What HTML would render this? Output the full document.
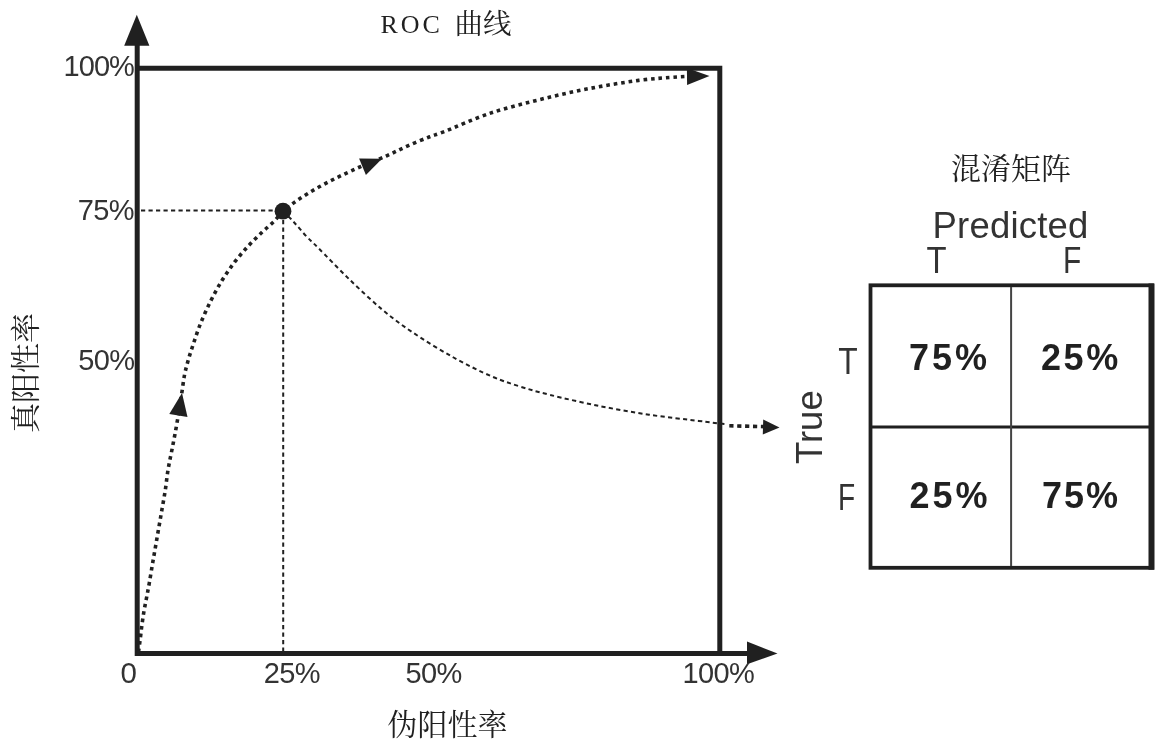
<!DOCTYPE html>
<html><head><meta charset="utf-8"><title>ROC</title>
<style>html,body{margin:0;padding:0;background:#fff;} svg{display:block;} svg{filter:grayscale(1)}</style>
</head><body>
<svg width="1168" height="744" viewBox="0 0 1168 744">
<rect width="1168" height="744" fill="#fff"/>
<path d="M137.2,40 V653.6 H752" fill="none" stroke="#231f20" stroke-width="5"/>
<path d="M135,68.2 H719.8 V653" fill="none" stroke="#231f20" stroke-width="5"/>
<polygon points="136.8,14.8 124.2,45.8 149.4,45.8" fill="#231f20"/>
<polygon points="777.5,653.6 747,641.6 747,664.2" fill="#231f20"/>
<path d="M141,210.4 H276" fill="none" stroke="#231f20" stroke-width="2" stroke-dasharray="4.2 3.3"/>
<path d="M283.2,220 V651" fill="none" stroke="#231f20" stroke-width="2" stroke-dasharray="4.2 3.3"/>
<path d="M283.0,211.0 C284.2,212.2 288.2,216.1 290.5,218.5 C292.8,220.9 294.2,222.5 297.0,225.6 C299.8,228.7 303.4,233.3 307.0,237.0 C310.6,240.7 311.3,241.0 318.3,248.0 C325.3,255.0 338.3,268.6 348.9,278.9 C359.5,289.1 371.5,300.6 382.1,309.5 C392.8,318.4 400.9,324.5 412.8,332.5 C424.7,340.5 440.4,350.2 453.6,357.5 C466.8,364.8 480.8,371.7 491.9,376.5 C503.0,381.3 510.4,383.4 520.0,386.5 C529.6,389.6 536.5,391.6 549.7,394.8 C562.9,398.1 582.8,402.7 599.3,406.0 C615.8,409.3 632.5,412.2 649.0,414.7 C665.5,417.2 686.9,419.4 698.6,420.9 C710.3,422.3 714.6,422.9 719.0,423.4 C723.4,423.9 724.0,423.9 725.0,424.0" fill="none" stroke="#231f20" stroke-width="2" stroke-dasharray="4.2 3.3"/>
<path d="M729.3,425.8 L764,426.6" fill="none" stroke="#231f20" stroke-width="3.6" stroke-dasharray="4.2 3.7"/>
<polygon points="779.5,427.4 762.8,434.5 763.2,419.5" fill="#231f20"/>
<path d="M138.5,652.0 C138.8,650.2 139.4,645.3 140.0,641.0 C140.6,636.7 141.1,631.0 141.8,626.0 C142.5,621.0 143.2,615.7 144.0,611.0 C144.8,606.3 145.6,602.7 146.5,598.0 C147.4,593.3 148.2,589.2 149.3,583.0 C150.4,576.8 151.7,568.5 153.0,561.0 C154.3,553.5 155.7,545.7 157.0,538.0 C158.3,530.3 159.7,522.7 161.0,515.0 C162.3,507.3 163.8,499.5 165.0,492.0 C166.2,484.5 166.9,476.7 168.0,470.0 C169.1,463.3 170.3,458.0 171.5,452.0 C172.7,446.0 173.8,440.3 175.0,434.0 C176.2,427.7 177.4,420.5 178.5,414.0 C179.6,407.5 180.5,401.5 181.5,395.0 C182.5,388.5 183.4,380.7 184.5,375.0 C185.6,369.3 186.7,365.8 188.0,361.0 C189.3,356.2 190.5,352.6 192.6,346.3 C194.7,340.0 197.5,331.0 200.6,323.4 C203.7,315.8 207.3,307.8 210.9,300.6 C214.5,293.4 218.3,286.5 222.3,280.0 C226.3,273.5 230.5,267.4 234.9,261.7 C239.3,256.0 244.0,250.6 248.6,245.7 C253.2,240.8 258.1,236.0 262.3,232.0 C266.5,228.0 270.2,225.1 273.7,221.7 C277.1,218.3 279.6,214.7 283.0,211.5 C286.4,208.3 290.4,205.3 294.4,202.4 C298.4,199.5 302.7,196.7 307.1,194.0 C311.5,191.3 316.2,188.5 320.8,186.0 C325.4,183.5 329.8,181.2 334.4,178.9 C338.9,176.6 343.5,174.5 348.1,172.3 C352.7,170.2 355.6,168.8 362.0,166.0 C368.4,163.2 379.1,159.2 386.7,155.8 C394.3,152.4 400.6,149.0 407.8,145.8 C415.0,142.6 423.5,139.2 429.7,136.8 C435.9,134.4 434.8,135.3 444.8,131.4 C454.8,127.5 473.9,118.7 489.7,113.4 C505.4,108.1 522.8,103.8 539.3,99.7 C555.8,95.6 572.5,91.8 589.0,88.6 C605.5,85.4 623.7,82.4 638.6,80.4 C653.5,78.5 668.1,77.6 678.3,76.9 C688.5,76.2 696.4,76.4 700.0,76.3" fill="none" stroke="#231f20" stroke-width="3.6" stroke-dasharray="3.6 3.9"/>
<polygon points="182.0,393.0 187.5,417.0 169.3,414.0" fill="#231f20"/>
<polygon points="382.0,158.7 365.9,175.0 359.1,158.4" fill="#231f20"/>
<polygon points="709.5,76.1 687.1,84.9 686.9,67.9" fill="#231f20"/>
<circle cx="283" cy="211.2" r="8.4" fill="#231f20"/>
<rect x="870.5" y="285.3" width="281.5" height="282.5" fill="none" stroke="#231f20" stroke-width="3.8"/>
<line x1="1151.5" y1="283.5" x2="1151.5" y2="569.8" stroke="#231f20" stroke-width="6"/>
<line x1="872" y1="427" x2="1150" y2="427" stroke="#231f20" stroke-width="3"/>
<line x1="1011.1" y1="287" x2="1011.1" y2="566" stroke="#444" stroke-width="2"/>
<text x="134" y="76" font-size="29" text-anchor="end" style="font-family:'Liberation Sans',sans-serif" fill="#333" letter-spacing="-0.9">100%</text>
<text x="134" y="219.8" font-size="29" text-anchor="end" style="font-family:'Liberation Sans',sans-serif" fill="#333" letter-spacing="-0.6">75%</text>
<text x="134.5" y="370.2" font-size="29" text-anchor="end" style="font-family:'Liberation Sans',sans-serif" fill="#333" letter-spacing="-0.6">50%</text>
<text x="120.5" y="683.1" font-size="29.5" text-anchor="start" style="font-family:'Liberation Sans',sans-serif" fill="#333" >0</text>
<text x="263.8" y="683.2" font-size="29" text-anchor="start" style="font-family:'Liberation Sans',sans-serif" fill="#333" letter-spacing="-0.6">25%</text>
<text x="405.5" y="683.2" font-size="29" text-anchor="start" style="font-family:'Liberation Sans',sans-serif" fill="#333" letter-spacing="-0.6">50%</text>
<text x="682.5" y="683" font-size="29" text-anchor="start" style="font-family:'Liberation Sans',sans-serif" fill="#333" letter-spacing="-0.6">100%</text>
<text x="380.5" y="33.4" font-size="26" text-anchor="start" style="font-family:'Liberation Serif','Noto Serif CJK SC',serif" fill="#231f20" letter-spacing="3">ROC</text>
<text x="454.5" y="34" font-size="28.5" text-anchor="start" style="font-family:'Liberation Serif','Noto Serif CJK SC',serif" fill="#231f20" >曲线</text>
<text x="387.5" y="735" font-size="30" text-anchor="start" style="font-family:'Liberation Serif','Noto Serif CJK SC',serif" fill="#231f20" >伪阳性率</text>
<text transform="translate(36.4,433) rotate(-90)" font-size="30" style="font-family:'Liberation Serif','Noto Serif CJK SC',serif" fill="#231f20">真阳性率</text>
<text x="951" y="179" font-size="30" text-anchor="start" style="font-family:'Liberation Serif','Noto Serif CJK SC',serif" fill="#231f20" >混淆矩阵</text>
<text x="932.5" y="237.6" font-size="36.5" text-anchor="start" style="font-family:'Liberation Sans',sans-serif" fill="#333" letter-spacing="0.2">Predicted</text>
<text transform="translate(926.6,273) scale(0.9,1)" font-size="36.5" style="font-family:'Liberation Sans',sans-serif" fill="#333">T</text>
<text transform="translate(1062.9,273) scale(0.82,1)" font-size="36.5" style="font-family:'Liberation Sans',sans-serif" fill="#333">F</text>
<text transform="translate(838.2,374) scale(0.86,1)" font-size="37" style="font-family:'Liberation Sans',sans-serif" fill="#333">T</text>
<text transform="translate(837.9,510.3) scale(0.76,1)" font-size="37" style="font-family:'Liberation Sans',sans-serif" fill="#333">F</text>
<text transform="translate(822.3,464) rotate(-90)" font-size="36.5" style="font-family:'Liberation Sans',sans-serif" fill="#333">True</text>
<text x="909" y="370.4" font-size="36" text-anchor="start" style="font-family:'Liberation Sans',sans-serif;font-weight:bold" fill="#231f20" letter-spacing="3">75%</text>
<text x="1041" y="370.4" font-size="36" text-anchor="start" style="font-family:'Liberation Sans',sans-serif;font-weight:bold" fill="#231f20" letter-spacing="2.6">25%</text>
<text x="909.5" y="507.6" font-size="36" text-anchor="start" style="font-family:'Liberation Sans',sans-serif;font-weight:bold" fill="#231f20" letter-spacing="3">25%</text>
<text x="1042" y="507.6" font-size="36" text-anchor="start" style="font-family:'Liberation Sans',sans-serif;font-weight:bold" fill="#231f20" letter-spacing="2">75%</text>
</svg>
</body></html>
